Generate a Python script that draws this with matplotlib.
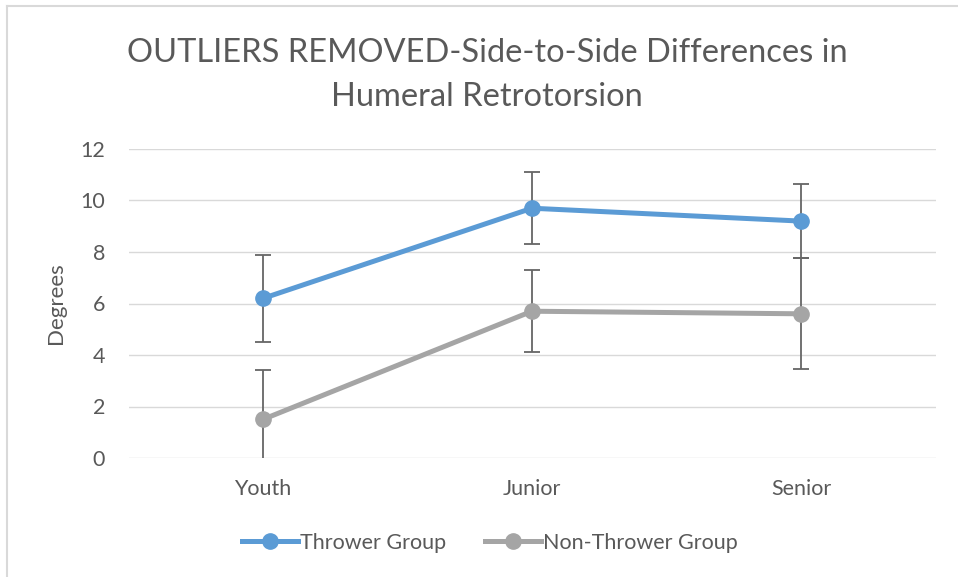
import matplotlib
matplotlib.use("Agg")
import numpy as np
from matplotlib import pyplot as plt
from matplotlib.lines import Line2D

categories = ["Youth", "Junior", "Senior"]
thrower = [6.2, 9.7, 9.2]
thrower_err = [1.7, 1.4, 1.45]
non_thrower = [1.5, 5.7, 5.6]
non_thrower_err = [1.9, 1.6, 2.15]
yticks = [0, 2, 4, 6, 8, 10, 12]

plt.rcParams['font.family'] = ['Lato', 'DejaVu Sans']
txt = '#595959'

fig = plt.figure(figsize=(9.58, 5.77), dpi=100)
W, H = 958, 577
ax = fig.add_axes([128.5 / W, 1 - 458 / H, (935.5 - 128.5) / W, (458 - 149) / H])

x = np.arange(len(categories))
ax.errorbar(x, thrower, yerr=thrower_err, fmt='none', ecolor='#666666',
            elinewidth=1.3, capsize=6, capthick=1.3, zorder=2)
ax.errorbar(x, non_thrower, yerr=non_thrower_err, fmt='none', ecolor='#666666',
            elinewidth=1.3, capsize=6, capthick=1.3, zorder=2)
ax.plot(x, thrower, color='#5B9BD5', lw=3.6, marker='o', ms=11, label='Thrower Group', zorder=3)
ax.plot(x, non_thrower, color='#A5A5A5', lw=3.6, marker='o', ms=11, label='Non-Thrower Group', zorder=3)

ax.set_xlim(-0.5, 2.5)
ax.set_ylim(0, 12)
ax.set_yticks(yticks)
ax.set_xticks(x)
ax.set_xticklabels(categories)
ax.grid(axis='y', color='#D9D9D9', lw=1)
ax.set_axisbelow(True)
for s in ax.spines.values():
    s.set_visible(False)
ax.tick_params(length=0, labelsize=15.5, colors=txt)
ax.tick_params(axis='x', pad=15)
ax.tick_params(axis='y', pad=17)
ax.set_ylabel('Degrees', fontsize=16, color=txt)
ax.yaxis.set_label_coords(-0.078, 0.5)

fig.text(487 / W, 1 - 75 / H, 'OUTLIERS REMOVED-Side-to-Side Differences in\nHumeral Retrotorsion',
         ha='center', va='center', fontsize=23.5, color=txt, linespacing=1.55)

leg = fig.legend(loc='center', bbox_to_anchor=(490 / W, 1 - 543 / H), ncol=2, frameon=False,
                 fontsize=15.5, handlelength=2.6, handletextpad=0.1, columnspacing=1.8)
for t in leg.get_texts():
    t.set_color(txt)

fig.add_artist(Line2D([7 / W, 7 / W], [0, 1 - 6 / H], color='#D9D9D9', lw=1.5))
fig.add_artist(Line2D([7 / W, 1], [1 - 6 / H, 1 - 6 / H], color='#D9D9D9', lw=1.5))

fig.savefig('out.png', dpi=100)
